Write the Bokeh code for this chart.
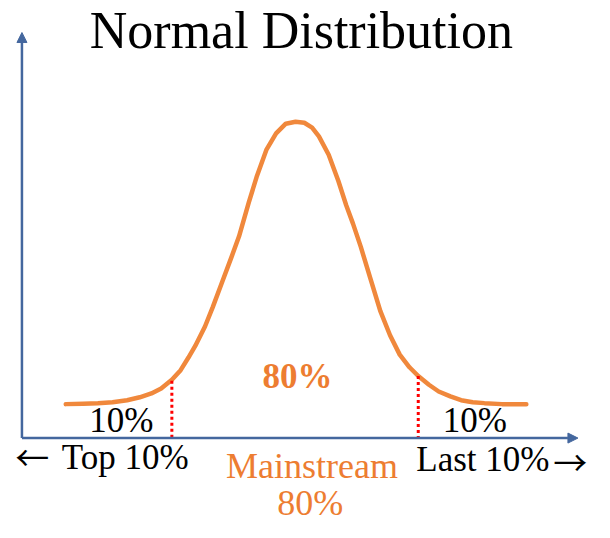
from bokeh.plotting import figure
from bokeh.models import Range1d, Label, Arrow, NormalHead
from bokeh.embed import file_html
from bokeh.resources import INLINE

# ---- data (x in sigma units, y in density units) ----
curve_x = [-3.933, -3.633, -3.383, -3.133, -2.883, -2.667, -2.467, -2.30, -2.117, -1.967,
           -1.833, -1.717, -1.55, -1.417, -1.25, -1.10, -0.967, -0.80, -0.667, -0.50,
           -0.333, -0.167, 0.0, 0.15, 0.283, 0.40, 0.567, 0.733, 0.867, 0.983,
           1.117, 1.283, 1.45, 1.617, 1.783, 1.95, 2.10, 2.283, 2.45, 2.65,
           2.833, 3.033, 3.233, 3.533, 3.95]
curve_y = [0.0, 0.0007, 0.0014, 0.0027, 0.0055, 0.0096, 0.0150, 0.0219, 0.0342, 0.0478,
           0.0656, 0.0820, 0.1093, 0.1366, 0.1735, 0.2063, 0.2364, 0.2842, 0.3197, 0.3580,
           0.3812, 0.3949, 0.3976, 0.3962, 0.3894, 0.3771, 0.3512, 0.3143, 0.2801, 0.2542,
           0.2214, 0.1763, 0.1312, 0.0970, 0.0697, 0.0519, 0.0396, 0.0273, 0.0178, 0.0109,
           0.0055, 0.0027, 0.0014, 0.0, 0.0]

cut_x = [-2.117, 2.1]
cut_top = [0.0328, 0.0396]
axis_level = -0.0478
axis_origin_x = -4.683
x_axis_end = 4.833
y_axis_end = 0.5233

title_text = "Normal Distribution"
label_texts = ["80%", "10%", "10%", "Top 10%", "Mainstream", "80%", "Last 10%"]
label_x = [0.033, -2.983, 3.067, -4.0, 0.283, 0.25, 2.067]
label_y = [0.0385, -0.0230, -0.0230, -0.0749, -0.0866, -0.1399, -0.0776]
label_align = ["center", "center", "center", "left", "center", "center", "left"]
label_color = ["#ED7D31", "black", "black", "black", "#ED7D31", "#ED7D31", "black"]
label_style = ["bold", "normal", "normal", "normal", "normal", "normal", "normal"]
label_size = ["35px", "35px", "35px", "35px", "36px", "36px", "35px"]

arrow_texts = ["\u2190", "\u2192"]
arrow_x = [-4.508, 4.70]
arrow_y = [-0.0738, -0.0806]

AXIS_COLOR = "#44679E"
FONT = "Liberation Serif"

p = figure(width=594, height=522, output_backend="svg", toolbar_location=None,
           x_range=Range1d(-5.05, 5.1167), y_range=Range1d(-0.1667, 0.5684),
           x_axis_location=None, y_axis_location=None, min_border=0,
           outline_line_color=None, background_fill_color="white",
           border_fill_color="white")
p.xgrid.visible = False
p.ygrid.visible = False

# axes with arrows
p.add_layout(Arrow(x_start=axis_origin_x, y_start=axis_level, x_end=axis_origin_x, y_end=y_axis_end,
                   line_color=AXIS_COLOR, line_width=2.5,
                   end=NormalHead(size=10, fill_color=AXIS_COLOR, line_color=AXIS_COLOR)))
p.add_layout(Arrow(x_start=axis_origin_x, y_start=axis_level, x_end=x_axis_end, y_end=axis_level,
                   line_color=AXIS_COLOR, line_width=2.5,
                   end=NormalHead(size=10, fill_color=AXIS_COLOR, line_color=AXIS_COLOR)))

# curve
p.line(curve_x, curve_y, line_color="#F0883C", line_width=4.5, line_join="round", line_cap="round")

# cut lines
p.segment(x0=cut_x, y0=cut_top, x1=cut_x, y1=[axis_level] * len(cut_x),
          line_color="#FF0000", line_width=3, line_dash="3 3")

# title
p.add_layout(Label(x=0.1, y=0.5257, text=title_text, text_align="center",
                   text_baseline="middle", text_font=FONT, text_font_size="52px",
                   text_color="black"))

for t, x, y, a, c, s, fs in zip(label_texts, label_x, label_y, label_align, label_color,
                                label_style, label_size):
    p.add_layout(Label(x=x, y=y, text=t, text_align=a, text_baseline="middle",
                       text_font=FONT, text_font_size=fs, text_font_style=s, text_color=c))

for t, x, y in zip(arrow_texts, arrow_x, arrow_y):
    p.add_layout(Label(x=x, y=y, text=t, text_align="center", text_baseline="middle",
                       text_font="Noto Sans CJK JP", text_font_size="34px", text_color="black"))

open("out.html", "w").write(file_html(p, INLINE))
